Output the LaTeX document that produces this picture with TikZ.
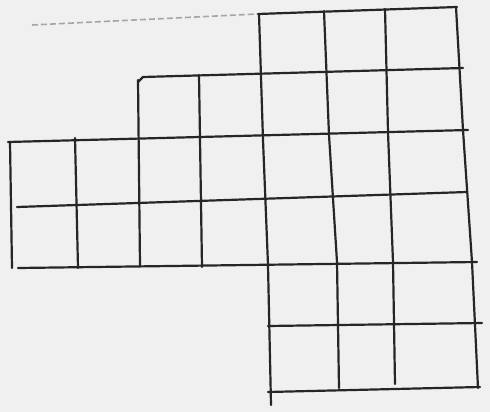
\documentclass[tikz,border=0pt]{standalone}
\begin{document}
\begin{tikzpicture}[x=1pt,y=-1pt,
  gridline/.style={line width=2.2pt,draw=black!85,line cap=round,line join=round},
  faintline/.style={line width=1.6pt,draw=black!35,dash pattern=on 6pt off 3pt}]
\fill[black!6] (0,0) rectangle (490,412);
\useasboundingbox (0,0) rectangle (490,412);
% faint trace at top left
\draw[faintline] (32,25) -- (257,14);
% horizontal lines
\draw[gridline] (258,14) -- (457,7);
\draw[gridline] (138,82) -- (143,77) -- (463,68);
\draw[gridline] (8,142) -- (468,130);
\draw[gridline] (17,207) -- (467,192);
\draw[gridline] (18,268) -- (477,262);
\draw[gridline] (268,326) -- (482,323);
\draw[gridline] (268,392) -- (480,387);
% vertical lines
\draw[gridline] (10,142) -- (12,268);
\draw[gridline] (75,138) -- (78,268);
\draw[gridline] (138,80) -- (140,266);
\draw[gridline] (199,75) -- (202,267);
\draw[gridline] (259,14) -- (263,140) -- (268,265) -- (271,405);
\draw[gridline] (324,11) -- (329,135) -- (337,262) -- (339,388);
\draw[gridline] (385,9) -- (388,132) -- (393,262) -- (395,384);
\draw[gridline] (456,7) -- (463,130) -- (472,262) -- (478,388);
\end{tikzpicture}
\end{document}
